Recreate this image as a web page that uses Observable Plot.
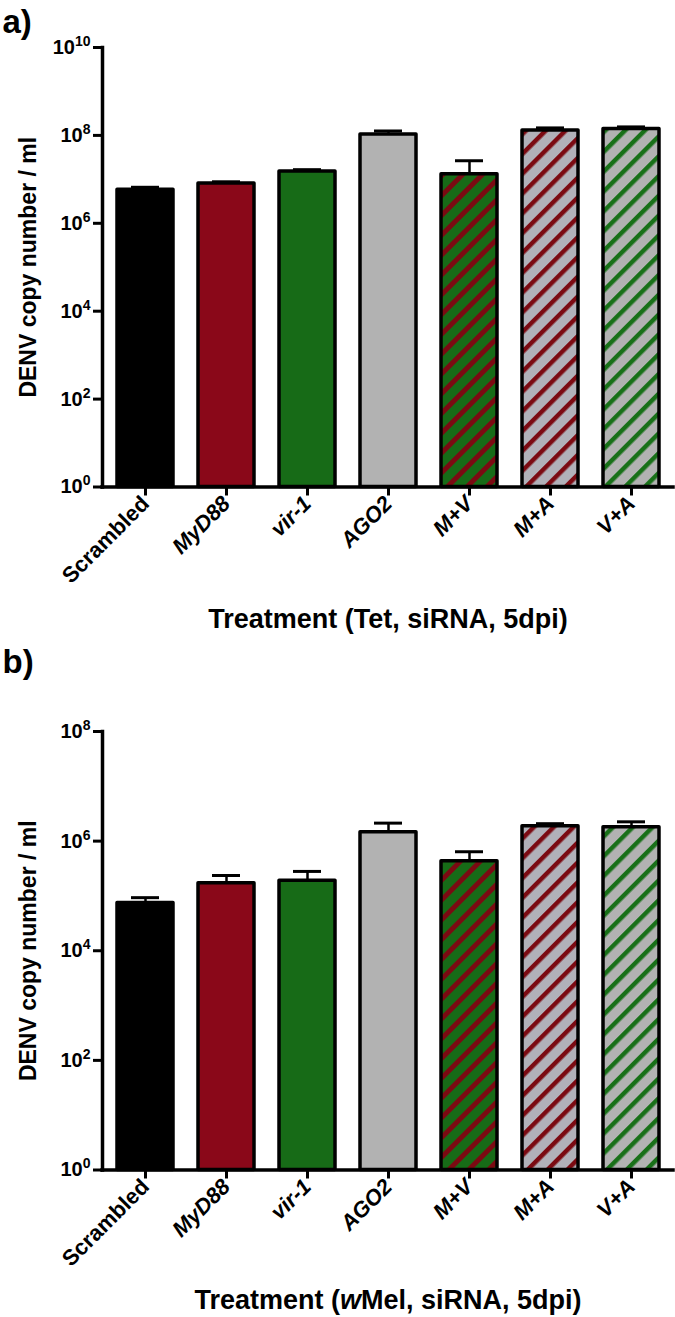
<!DOCTYPE html>
<html>
<head>
<meta charset="utf-8">
<script src="https://cdn.jsdelivr.net/npm/d3@7"></script>
<script src="https://cdn.jsdelivr.net/npm/@observablehq/plot@0.6"></script>
<style>
  html, body { margin: 0; padding: 0; background: #fff; }
  #chart svg { display: block; }
</style>
</head>
<body>
<div id="chart"></div>
<script>
// ---- data ----
const treatments = ["Scrambled", "MyD88", "vir-1", "AGO2", "M+V", "M+A", "V+A"];
const tetMean  = [5.8e6, 8.0e6, 1.5e7, 1.05e8, 1.3e7, 1.3e8, 1.4e8];
const tetUpper = [6.6e6, 8.8e6, 1.66e7, 1.26e8, 2.65e7, 1.48e8, 1.56e8];
const wmelMean  = [7.4e4, 1.7e5, 1.9e5, 1.45e6, 4.3e5, 1.86e6, 1.8e6];
const wmelUpper = [9.3e4, 2.36e5, 2.8e5, 2.13e6, 6.4e5, 2.08e6, 2.25e6];
const ticksA = [1, 1e2, 1e4, 1e6, 1e8, 1e10];
const ticksB = [1, 1e2, 1e4, 1e6, 1e8];
const yTitle = "DENV copy number / ml";
const xTitleA = "Treatment (Tet, siRNA, 5dpi)";
const xTitleB = "Treatment (wMel, siRNA, 5dpi)";

const RED = "#8a0819", GREEN = "#176b17", GREY = "#b2b2b2", GREY2 = "#b1b1b9";
const STRIPE_RED = "#7b0a12", STRIPE_GREEN = "#187018";

const SVGNS = "http://www.w3.org/2000/svg";
function addPatterns(svg, prefix) {
  const defs = document.createElementNS(SVGNS, "defs");
  const specs = [["mv", GREEN, STRIPE_RED, 5], ["ma", GREY2, STRIPE_RED, 4.5], ["va", GREY, STRIPE_GREEN, 4.5]];
  for (const [id, bg, fg, w] of specs) {
    const p = document.createElementNS(SVGNS, "pattern");
    p.setAttribute("id", prefix + id);
    p.setAttribute("patternUnits", "userSpaceOnUse");
    p.setAttribute("width", "14");
    p.setAttribute("height", "14");
    p.setAttribute("patternTransform", "rotate(-45)");
    const r1 = document.createElementNS(SVGNS, "rect");
    r1.setAttribute("width", "14"); r1.setAttribute("height", "14"); r1.setAttribute("fill", bg);
    const r2 = document.createElementNS(SVGNS, "rect");
    r2.setAttribute("width", "14"); r2.setAttribute("height", String(w)); r2.setAttribute("fill", fg);
    p.appendChild(r1); p.appendChild(r2);
    defs.appendChild(p);
  }
  svg.insertBefore(defs, svg.firstChild);
}

function panel({mean, upper, yDomain, yTicks, height, marginTop, marginBottom, tag, tagDy, xTitle, titleDy, prefix}) {
  const data = treatments.map((t, i) => ({treatment: t, mean: mean[i], upper: upper[i]}));
  const fills = ["#000000", RED, GREEN, GREY, `url(#${prefix}mv)`, `url(#${prefix}ma)`, `url(#${prefix}va)`];
  const svg = Plot.plot({
    width: 675,
    height,
    marginTop,
    marginBottom,
    marginLeft: 102,
    marginRight: 2,
    style: {fontFamily: "'Liberation Sans', Arial, sans-serif", fontWeight: "bold", fontSize: "20px", color: "#000", background: "#fff", overflow: "visible"},
    x: {type: "band", domain: treatments, paddingInner: 0.31, paddingOuter: 0.165},
    y: {type: "log", domain: yDomain},
    color: {type: "ordinal", domain: treatments, range: fills},
    marks: [
      Plot.ruleX(data, {x: "treatment", y1: "mean", y2: "upper", stroke: "#000", strokeWidth: 2.5}),
      Plot.tickY(data, {x: "treatment", y: "upper", stroke: "#000", strokeWidth: 3, insetLeft: 14, insetRight: 14}),
      Plot.barY(data, {x: "treatment", y1: yDomain[0], y2: "mean", fill: "treatment", stroke: "#000", strokeWidth: 3.5, strokeLinejoin: "round"}),
      Plot.ruleY([yDomain[0]], {stroke: "#000", strokeWidth: 3.5, strokeLinecap: "square"}),
      Plot.frame({anchor: "left", stroke: "#000", strokeWidth: 3.5}),
      Plot.axisY({ticks: yTicks, tickSize: 9, tickPadding: 3, strokeWidth: 3, fontSize: 20, label: null,
                  tickFormat: d => "10^" + Math.round(Math.log10(d))}),
      Plot.axisX({ticks: ["Scrambled"], tickRotate: -45, tickSize: 9, tickPadding: 4, strokeWidth: 3, fontSize: 22, label: null}),
      Plot.axisX({ticks: treatments.slice(1), tickRotate: -45, tickSize: 9, tickPadding: 4, strokeWidth: 3, fontSize: 22, fontStyle: "italic", label: null}),
      Plot.text([yTitle], {frameAnchor: "left", text: d => d, rotate: -90, dx: -74, textAnchor: "middle", fontSize: 23, fontWeight: "bold"}),
      Plot.text([xTitle], {frameAnchor: "bottom", text: d => d, dy: titleDy, textAnchor: "middle", lineAnchor: "bottom", fontSize: 27, fontWeight: "bold"}),
      Plot.text([tag], {frameAnchor: "top-left", text: d => d, dx: -100, dy: tagDy, textAnchor: "start", lineAnchor: "bottom", fontSize: 33, fontWeight: "bold"})
    ]
  });
  addPatterns(svg, prefix);
  // superscript exponents on y tick labels
  svg.querySelectorAll('g[aria-label="y-axis tick label"] text').forEach(t => {
    const s = t.textContent;
    const m = s.match(/^10\^(\d+)$/);
    if (!m) return;
    t.textContent = "10";
    const sup = document.createElementNS(SVGNS, "tspan");
    sup.setAttribute("dy", "-8");
    sup.setAttribute("font-size", "14");
    sup.textContent = m[1];
    t.appendChild(sup);
  });
  // italic "w" in wMel
  svg.querySelectorAll("text").forEach(t => {
    if (t.textContent === "Treatment (wMel, siRNA, 5dpi)") {
      t.textContent = "Treatment (";
      const it = document.createElementNS(SVGNS, "tspan");
      it.setAttribute("font-style", "italic");
      it.textContent = "w";
      const rest = document.createElementNS(SVGNS, "tspan");
      rest.textContent = "Mel, siRNA, 5dpi)";
      t.appendChild(it); t.appendChild(rest);
    }
  });
  return svg;
}

const chart = document.getElementById("chart");
chart.appendChild(panel({
  mean: tetMean, upper: tetUpper, yDomain: [1, 1e10], yTicks: ticksA,
  height: 645, marginTop: 47, marginBottom: 645 - 486.5,
  tag: "a)", tagDy: -15, xTitle: xTitleA, titleDy: 140.5, prefix: "pa-"
}));
chart.appendChild(panel({
  mean: wmelMean, upper: wmelUpper, yDomain: [1, 1e8], yTicks: ticksB,
  height: 672, marginTop: 86, marginBottom: 1317 - 1169.5,
  tag: "b)", tagDy: -59, xTitle: xTitleB, titleDy: 138.5, prefix: "pb-"
}));
</script>
</body>
</html>
